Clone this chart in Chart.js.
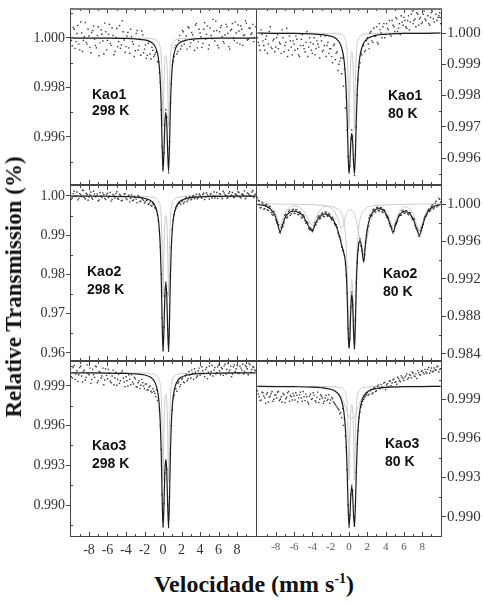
<!DOCTYPE html>
<html>
<head>
<meta charset="utf-8">
<script src="https://cdn.jsdelivr.net/npm/chart.js@4.4.0/dist/chart.umd.min.js"></script>
<style>
html, body { margin: 0; padding: 0; background: #fff; }
body { width: 483px; height: 603px; position: relative; overflow: hidden; }
canvas { position: absolute; }
.lbl { position: absolute; font: bold 14px "Liberation Sans", Arial, sans-serif; line-height: 18px; color: #111; white-space: nowrap; }
#ytitle { position: absolute; left: 14px; top: 287px; transform: translate(-50%, -50%) rotate(-90deg);
  font: bold 23px "Liberation Serif", "Times New Roman", serif; white-space: nowrap; color: #111; }
#xtitle { position: absolute; left: 254px; top: 571px; transform: translateX(-50%);
  font: bold 24px "Liberation Serif", "Times New Roman", serif; white-space: nowrap; color: #111; }
#xtitle sup { font-size: 14px; vertical-align: 9px; line-height: 0; }
</style>
</head>
<body>
<canvas id="c1"></canvas>
<canvas id="c2"></canvas>
<canvas id="c3"></canvas>
<canvas id="c4"></canvas>
<canvas id="c5"></canvas>
<canvas id="c6"></canvas>

<div class="lbl" style="left:92px;top:86px;line-height:16px">Kao1<br>298 K</div>
<div class="lbl" style="left:388px;top:86px">Kao1<br>80 K</div>
<div class="lbl" style="left:87px;top:262px">Kao2<br>298 K</div>
<div class="lbl" style="left:383px;top:264px">Kao2<br>80 K</div>
<div class="lbl" style="left:92px;top:436px">Kao3<br>298 K</div>
<div class="lbl" style="left:385px;top:434px">Kao3<br>80 K</div>
<div id="ytitle">Relative Transmission (%)</div>
<div id="xtitle">Velocidade (mm s<sup>-1</sup>)</div>

<script>
// eixo de velocidade (canais medidos, duas varreduras intercaladas)
const vel = [-10,-9.8,-9.6,-9.4,-9.2,-9,-8.8,-8.6,-8.4,-8.2,-8,-7.8,-7.6,-7.4,-7.2,-7,-6.8,-6.6,-6.4,-6.2,
  -6,-5.8,-5.6,-5.4,-5.2,-5,-4.8,-4.6,-4.4,-4.2,-4,-3.8,-3.6,-3.4,-3.2,-3,-2.8,-2.6,-2.4,-2.2,
  -2,-1.8,-1.6,-1.4,-1.2,-1,-0.8,-0.6,-0.4,-0.2,0,0.2,0.4,0.6,0.8,1,1.2,1.4,1.6,1.8,
  2,2.2,2.4,2.6,2.8,3,3.2,3.4,3.6,3.8,4,4.2,4.4,4.6,4.8,5,5.2,5.4,5.6,5.8,
  6,6.2,6.4,6.6,6.8,7,7.2,7.4,7.6,7.8,8,8.2,8.4,8.6,8.8,9,9.2,9.4,9.6,9.8,10];
const vel2 = [-9.9,-9.7,-9.5,-9.3,-9.1,-8.9,-8.7,-8.5,-8.3,-8.1,-7.9,-7.7,-7.5,-7.3,-7.1,-6.9,-6.7,-6.5,-6.3,-6.1,
  -5.9,-5.7,-5.5,-5.3,-5.1,-4.9,-4.7,-4.5,-4.3,-4.1,-3.9,-3.7,-3.5,-3.3,-3.1,-2.9,-2.7,-2.5,-2.3,-2.1,
  -1.9,-1.7,-1.5,-1.3,-1.1,-0.9,-0.7,-0.5,-0.3,-0.1,0.1,0.3,0.5,0.7,0.9,1.1,1.3,1.5,1.7,1.9,
  2.1,2.3,2.5,2.7,2.9,3.1,3.3,3.5,3.7,3.9,4.1,4.3,4.5,4.7,4.9,5.1,5.3,5.5,5.7,5.9,
  6.1,6.3,6.5,6.7,6.9,7.1,7.3,7.5,7.7,7.9,8.1,8.3,8.5,8.7,8.9,9.1,9.3,9.5,9.7,9.9];

// velocidades das curvas de ajuste (dubletos)
const fitV = [-10,-8,-6,-4,-3,-2,-1.5,-1.2,-1,-0.8,-0.6,-0.5,-0.4,-0.3,-0.2,-0.1,0,0.1,0.2,0.3,
  0.4,0.5,0.6,0.7,0.8,0.9,1,1.1,1.2,1.4,1.6,1.8,2,2.5,3,4,6,8,10];
// velocidades do ajuste Kao2 80 K (sexteto + dubleto)
const p4V = [-10,-9,-8.5,-8,-7.8,-7.5,-7.2,-7,-6.5,-6,-5.5,-5,-4.6,-4.3,-4.05,-3.8,-3.5,-3,-2.5,-2,
  -1.6,-1.3,-1,-0.8,-0.6,-0.4,-0.3,-0.2,-0.1,0,0.1,0.2,0.3,0.4,0.5,0.6,0.7,0.8,0.9,1,
  1.2,1.4,1.6,1.8,2,2.3,2.7,3.2,3.8,4.2,4.5,4.8,5.1,5.4,6,6.6,7.1,7.4,7.7,8,8.4,9,10];

const xTicks = ['-8','-6','-4','-2','0','2','4','6','8'];
const yTicks1 = ['0.996','0.998','1.000'];
const yTicks2 = ['0.996','0.997','0.998','0.999','1.000'];
const yTicks3 = ['0.96','0.97','0.98','0.99','1.00'];
const yTicks4 = ['0.984','0.988','0.992','0.996','1.000'];
const yTicks5 = ['0.990','0.993','0.996','0.999'];
const yTicks6 = ['0.990','0.993','0.996','0.999'];

// Kao1 298 K
const pts1 = [1.00012,0.99968,1.00035,0.99985,1.00050,0.99952,1.00020,0.99990,1.00062,0.99975,
  1.00008,0.99940,1.00030,0.99995,0.99960,1.00045,0.99980,1.00015,0.99935,1.00025,
  0.99990,1.00055,0.99970,1.00010,0.99945,1.00038,0.99985,0.99958,1.00070,0.99992,
  0.99965,1.00022,0.99938,1.00005,0.99975,0.99948,1.00030,0.99968,0.99930,1.00012,
  0.99955,0.99918,0.99978,0.99935,0.99962,0.99925,0.99940,0.99905,0.99860,0.99710,
  0.99470,0.99650,0.99680,0.99455,0.99735,0.99890,0.99925,0.99970,0.99945,1.00010,
  0.99968,1.00025,0.99990,0.99955,1.00040,0.99980,1.00012,0.99950,1.00058,0.99985,
  1.00020,0.99962,1.00035,0.99995,1.00048,0.99972,1.00010,1.00075,0.99988,1.00030,
  0.99960,1.00042,1.00005,0.99978,1.00055,1.00018,0.99955,1.00035,1.00000,1.00065,
  0.99980,1.00028,1.00048,0.99970,1.00012,1.00060,0.99995,1.00038,1.00020,0.99985,
  1.00045];
const pts1b = [0.99990,1.00042,0.99958,1.00018,0.99975,1.00065,0.99945,1.00005,0.99982,1.00035,
  0.99962,1.00022,1.00048,0.99970,1.00010,0.99928,1.00032,0.99988,1.00060,0.99952,
  1.00015,0.99978,1.00040,0.99932,1.00002,0.99965,1.00050,0.99972,1.00025,0.99942,
  1.00008,0.99960,1.00035,0.99985,0.99925,1.00018,0.99950,0.99995,1.00028,0.99940,
  0.99972,0.99930,0.99985,0.99915,0.99950,0.99932,0.99945,0.99902,0.99820,0.99560,
  0.99535,0.99710,0.99555,0.99580,0.99815,0.99905,0.99960,0.99935,0.99990,0.99955,
  1.00030,0.99975,1.00008,1.00045,0.99965,1.00022,0.99990,1.00052,0.99960,1.00035,
  1.00005,0.99978,1.00062,1.00015,0.99955,1.00040,0.99998,1.00028,1.00068,0.99970,
  1.00025,1.00050,0.99985,1.00012,1.00045,0.99965,1.00030,1.00058,0.99990,1.00020,
  1.00052,0.99975,1.00035,1.00010,1.00070,0.99992,1.00040,1.00015,1.00055,1.00000];
const fit1 = [1.00000,0.99999,0.99999,0.99998,0.99996,0.99992,0.99987,0.99981,0.99974,0.99961,
  0.99938,0.99917,0.99883,0.99826,0.99726,0.99571,0.99461,0.99540,0.99657,0.99699,
  0.99657,0.99540,0.99461,0.99571,0.99726,0.99826,0.99883,0.99917,0.99938,0.99961,
  0.99974,0.99981,0.99985,0.99991,0.99994,0.99997,0.99999,0.99999,1.00000];
const gray1 = [1.00000,1.00000,1.00000,1.00000,0.99999,0.99999,0.99998,0.99997,0.99995,0.99993,
  0.99988,0.99984,0.99976,0.99961,0.99925,0.99818,0.99641,0.99812,0.99909,0.99930,
  0.99909,0.99812,0.99641,0.99818,0.99925,0.99961,0.99976,0.99984,0.99988,0.99993,
  0.99995,0.99997,0.99997,0.99999,0.99999,1.00000,1.00000,1.00000,1.00000];

// Kao1 80 K
const pts2 = [0.99985,0.99960,1.00010,0.99975,0.99945,0.99990,0.99965,1.00020,0.99950,0.99980,
  0.99955,0.99995,0.99970,0.99935,0.99985,0.99960,1.00015,0.99945,0.99975,0.99930,
  0.99965,0.99990,0.99950,0.99925,0.99980,0.99960,0.99940,1.00005,0.99955,0.99970,
  0.99935,0.99985,0.99950,0.99965,0.99920,0.99975,0.99945,0.99990,0.99960,0.99935,
  0.99950,0.99905,0.99965,0.99935,0.99880,0.99910,0.99870,0.99830,0.99760,0.99690,
  0.99560,0.99660,0.99670,0.99545,0.99700,0.99850,0.99905,0.99930,0.99960,0.99945,
  0.99985,0.99950,1.00005,0.99970,0.99990,1.00020,0.99965,1.00010,0.99985,1.00030,
  0.99995,1.00015,1.00040,0.99990,1.00025,1.00005,1.00045,1.00015,0.99995,1.00035,
  1.00050,1.00020,1.00040,1.00010,1.00060,1.00030,1.00045,1.00065,1.00025,1.00050,
  1.00035,1.00070,1.00040,1.00055,1.00025,1.00065,1.00045,1.00075,1.00040,1.00055,
  1.00030];
const pts2b = [0.99970,0.99945,0.99995,0.99960,0.99980,0.99935,1.00005,0.99955,0.99975,0.99940,
  0.99985,0.99950,0.99965,1.00010,0.99940,0.99970,0.99925,0.99990,0.99955,0.99975,
  0.99945,0.99980,0.99930,0.99960,0.99995,0.99950,0.99970,0.99925,0.99985,0.99945,
  0.99965,0.99930,0.99975,0.99955,0.99990,0.99940,0.99960,0.99925,0.99970,0.99950,
  0.99925,0.99960,0.99915,0.99940,0.99900,0.99920,0.99920,0.99885,0.99795,0.99605,
  0.99575,0.99690,0.99595,0.99610,0.99800,0.99890,0.99935,0.99960,0.99940,0.99975,
  0.99965,1.00000,0.99975,1.00015,0.99990,0.99970,1.00030,1.00000,1.00020,0.99985,
  1.00030,1.00010,0.99995,1.00040,1.00020,1.00050,1.00005,1.00030,1.00055,1.00025,
  1.00040,1.00015,1.00055,1.00035,1.00070,1.00040,1.00020,1.00060,1.00045,1.00030,
  1.00060,1.00045,1.00080,1.00030,1.00050,1.00070,1.00035,1.00060,1.00050,1.00065];
const fit2 = [1.00000,0.99999,0.99999,0.99997,0.99995,0.99990,0.99984,0.99976,0.99968,0.99953,
  0.99926,0.99902,0.99867,0.99811,0.99726,0.99618,0.99550,0.99584,0.99651,0.99679,
  0.99651,0.99584,0.99550,0.99618,0.99726,0.99811,0.99867,0.99902,0.99926,0.99953,
  0.99968,0.99976,0.99982,0.99989,0.99993,0.99996,0.99999,0.99999,1.00000];
const gray2 = [1.00000,1.00000,1.00000,1.00000,0.99999,0.99999,0.99998,0.99997,0.99996,0.99994,
  0.99990,0.99986,0.99979,0.99966,0.99936,0.99844,0.99692,0.99838,0.99922,0.99940,
  0.99922,0.99838,0.99692,0.99844,0.99936,0.99966,0.99979,0.99986,0.99990,0.99994,
  0.99996,0.99997,0.99998,0.99999,0.99999,1.00000,1.00000,1.00000,1.00000];

// Kao2 298 K
const pts3 = [1.00080,0.99950,1.00120,1.00010,0.99900,1.00060,0.99980,1.00140,0.99930,1.00040,
  0.99970,1.00100,0.99920,1.00050,1.00000,0.99880,1.00090,0.99960,1.00030,0.99910,
  1.00070,0.99990,0.99870,1.00040,0.99950,1.00110,0.99920,1.00020,0.99890,1.00060,
  0.99940,0.99990,0.99850,1.00030,0.99900,0.99960,0.99830,0.99980,0.99870,0.99920,
  0.99820,0.99890,0.99790,0.99850,0.99740,0.99780,0.99680,0.99520,0.99120,0.98010,
  0.96080,0.97450,0.97520,0.96050,0.97960,0.99150,0.99530,0.99690,0.99780,0.99830,
  0.99870,0.99810,0.99920,0.99860,0.99950,0.99900,0.99990,0.99930,1.00040,0.99960,
  1.00020,0.99940,1.00070,0.99980,1.00030,0.99920,1.00060,1.00010,0.99950,1.00090,
  0.99990,1.00040,0.99930,1.00080,1.00010,0.99960,1.00110,1.00020,0.99970,1.00050,
  1.00000,1.00090,0.99950,1.00040,1.00130,0.99980,1.00060,1.00010,1.00100,0.99960,
  1.00050];
const pts3b = [0.99920,1.00060,0.99990,1.00100,0.99940,1.00030,1.00150,0.99960,1.00070,0.99890,
  1.00040,0.99950,1.00120,0.99980,1.00050,0.99900,1.00010,1.00080,0.99940,1.00030,
  0.99960,1.00090,0.99910,1.00000,1.00060,0.99930,1.00040,0.99880,0.99990,1.00050,
  0.99910,1.00020,0.99940,0.99880,0.99990,0.99920,1.00010,0.99860,0.99940,0.99890,
  0.99850,0.99900,0.99810,0.99760,0.99800,0.99700,0.99620,0.99360,0.98700,0.96900,
  0.96650,0.97800,0.96600,0.96880,0.98680,0.99380,0.99620,0.99740,0.99820,0.99790,
  0.99880,0.99850,0.99960,0.99900,0.99990,0.99920,1.00010,0.99970,0.99930,1.00050,
  0.99980,1.00040,0.99910,1.00080,0.99990,1.00030,0.99950,1.00100,1.00000,0.99940,
  1.00060,0.99980,1.00120,1.00030,0.99940,1.00070,1.00000,1.00090,0.99960,1.00040,
  1.00110,0.99970,1.00050,1.00020,0.99930,1.00080,1.00030,0.99990,1.00140,1.00020];
const fit3 = [0.99997,0.99996,0.99993,0.99984,0.99973,0.99943,0.99905,0.99859,0.99806,0.99716,
  0.99543,0.99388,0.99141,0.98722,0.97988,0.96848,0.96040,0.96623,0.97480,0.97786,
  0.97480,0.96623,0.96040,0.96848,0.97988,0.98722,0.99141,0.99388,0.99543,0.99716,
  0.99806,0.99859,0.99892,0.99937,0.99959,0.99978,0.99991,0.99995,0.99997];
const gray3 = [1.00000,1.00000,0.99999,0.99997,0.99995,0.99990,0.99983,0.99975,0.99966,0.99949,
  0.99915,0.99883,0.99828,0.99720,0.99463,0.98700,0.97433,0.98654,0.99353,0.99500,
  0.99353,0.98654,0.97433,0.98700,0.99463,0.99720,0.99828,0.99883,0.99915,0.99949,
  0.99966,0.99975,0.99981,0.99989,0.99993,0.99997,0.99999,1.00000,1.00000];

// Kao2 80 K
const pts4 = [1.00070,1.00030,0.99960,1.00010,0.99950,0.99995,0.99930,0.99975,0.99890,0.99920,
  0.99830,0.99810,0.99700,0.99750,0.99760,0.99880,0.99850,0.99920,0.99880,0.99935,
  0.99900,0.99940,0.99890,0.99915,0.99860,0.99885,0.99820,0.99810,0.99740,0.99745,
  0.99705,0.99770,0.99780,0.99860,0.99840,0.99895,0.99870,0.99910,0.99875,0.99900,
  0.99850,0.99860,0.99790,0.99780,0.99690,0.99650,0.99540,0.99500,0.99360,0.99050,
  0.98480,0.98900,0.98920,0.98460,0.99160,0.99510,0.99630,0.99500,0.99400,0.99590,
  0.99720,0.99850,0.99870,0.99935,0.99925,0.99960,0.99930,0.99960,0.99920,0.99940,
  0.99885,0.99870,0.99790,0.99760,0.99690,0.99770,0.99790,0.99870,0.99880,0.99925,
  0.99905,0.99930,0.99895,0.99910,0.99860,0.99845,0.99770,0.99740,0.99660,0.99715,
  0.99750,0.99840,0.99870,0.99925,0.99920,0.99975,0.99950,1.00010,0.99970,1.00060,
  1.00020];
const pts4b = [1.00040,0.99960,1.00020,0.99945,0.99990,0.99940,0.99970,0.99910,0.99880,0.99890,
  0.99800,0.99780,0.99690,0.99780,0.99800,0.99890,0.99860,0.99935,0.99895,0.99945,
  0.99900,0.99940,0.99885,0.99910,0.99850,0.99870,0.99795,0.99800,0.99725,0.99730,
  0.99720,0.99800,0.99810,0.99875,0.99850,0.99905,0.99865,0.99915,0.99870,0.99885,
  0.99830,0.99840,0.99770,0.99755,0.99660,0.99615,0.99510,0.99455,0.99240,0.98670,
  0.98560,0.99060,0.98610,0.98760,0.99370,0.99590,0.99550,0.99470,0.99460,0.99670,
  0.99760,0.99880,0.99880,0.99945,0.99915,0.99965,0.99925,0.99960,0.99910,0.99930,
  0.99860,0.99850,0.99765,0.99740,0.99710,0.99800,0.99815,0.99890,0.99880,0.99935,
  0.99900,0.99930,0.99885,0.99905,0.99835,0.99840,0.99745,0.99720,0.99655,0.99745,
  0.99780,0.99865,0.99885,0.99945,0.99935,0.99990,0.99960,1.00030,0.99985,1.00050];
const fit4 = [0.99995,0.99975,0.99940,0.99860,0.99790,0.99705,0.99790,0.99850,0.99910,0.99925,
  0.99910,0.99870,0.99800,0.99745,0.99715,0.99755,0.99825,0.99880,0.99895,0.99860,
  0.99810,0.99740,0.99640,0.99560,0.99490,0.99390,0.99260,0.99030,0.98650,0.98460,
  0.98580,0.98880,0.99040,0.98940,0.98630,0.98450,0.98740,0.99140,0.99390,0.99525,
  0.99610,0.99525,0.99380,0.99575,0.99735,0.99860,0.99925,0.99950,0.99930,0.99860,
  0.99780,0.99700,0.99780,0.99860,0.99920,0.99900,0.99820,0.99730,0.99670,0.99760,
  0.99880,0.99960,0.99995];
const gray4s = [0.99998,0.99990,0.99970,0.99900,0.99840,0.99760,0.99840,0.99900,0.99960,0.99980,
  0.99970,0.99930,0.99870,0.99810,0.99780,0.99810,0.99880,0.99950,0.99975,0.99960,
  0.99920,0.99860,0.99780,0.99740,0.99780,0.99860,0.99890,0.99910,0.99925,0.99935,
  0.99940,0.99940,0.99935,0.99925,0.99910,0.99890,0.99860,0.99820,0.99770,0.99720,
  0.99620,0.99540,0.99500,0.99550,0.99650,0.99790,0.99900,0.99960,0.99950,0.99890,
  0.99820,0.99760,0.99830,0.99900,0.99970,0.99950,0.99870,0.99780,0.99730,0.99800,
  0.99910,0.99975,0.99998];
const gray4d = [1.00000,1.00000,1.00000,0.99999,0.99999,0.99999,0.99999,0.99999,0.99998,0.99998,
  0.99997,0.99996,0.99995,0.99994,0.99993,0.99992,0.99990,0.99986,0.99982,0.99975,
  0.99966,0.99950,0.99930,0.99898,0.99835,0.99690,0.99540,0.99275,0.98860,0.98570,
  0.98780,0.99090,0.99200,0.99090,0.98780,0.98570,0.98860,0.99275,0.99540,0.99690,
  0.99835,0.99898,0.99930,0.99950,0.99966,0.99975,0.99982,0.99986,0.99990,0.99992,
  0.99993,0.99994,0.99995,0.99996,0.99997,0.99998,0.99998,0.99999,0.99999,0.99999,
  0.99999,1.00000,1.00000];

// Kao3 298 K
const pts5 = [1.00030,0.99960,1.00055,0.99990,0.99935,1.00040,0.99975,1.00010,0.99945,1.00060,
  0.99985,0.99920,1.00025,0.99965,1.00045,0.99940,1.00005,0.99975,0.99910,1.00030,
  0.99955,0.99995,0.99925,1.00020,0.99960,0.99905,0.99990,0.99940,1.00015,0.99930,
  0.99970,0.99900,0.99950,0.99985,0.99915,0.99955,0.99890,0.99940,0.99905,0.99925,
  0.99880,0.99915,0.99870,0.99900,0.99850,0.99860,0.99820,0.99790,0.99720,0.99420,
  0.98840,0.99240,0.99270,0.98830,0.99390,0.99720,0.99830,0.99880,0.99920,0.99895,
  0.99950,0.99930,0.99975,0.99940,1.00010,0.99960,0.99995,1.00030,0.99965,1.00015,
  0.99980,1.00045,0.99995,1.00025,0.99955,1.00050,1.00010,0.99975,1.00040,1.00000,
  1.00060,0.99985,1.00030,1.00050,0.99990,1.00070,1.00020,0.99970,1.00045,1.00010,
  1.00055,0.99995,1.00035,1.00065,1.00010,1.00045,0.99985,1.00060,1.00025,1.00040,
  1.00015];
const pts5b = [0.99970,1.00040,0.99950,1.00015,0.99985,1.00050,0.99930,1.00020,0.99965,0.99995,
  1.00035,0.99950,0.99985,1.00050,0.99925,1.00010,0.99960,1.00035,0.99945,0.99980,
  1.00025,0.99935,0.99975,0.99910,1.00005,0.99950,0.99920,1.00000,0.99960,0.99895,
  0.99940,0.99985,0.99910,0.99930,0.99965,0.99895,0.99925,0.99880,0.99950,0.99900,
  0.99915,0.99870,0.99890,0.99860,0.99880,0.99845,0.99870,0.99810,0.99600,0.99080,
  0.99010,0.99330,0.99000,0.99060,0.99600,0.99810,0.99880,0.99860,0.99930,0.99910,
  0.99960,0.99925,0.99990,0.99955,0.99985,1.00020,0.99950,1.00005,0.99975,1.00035,
  0.99995,1.00015,0.99970,1.00040,1.00005,0.99985,1.00055,1.00020,0.99990,1.00045,
  1.00015,1.00040,0.99980,1.00065,1.00025,1.00005,1.00050,0.99990,1.00060,1.00030,
  1.00000,1.00050,1.00020,0.99990,1.00055,1.00030,1.00070,1.00005,1.00045,1.00020];
const fit5 = [0.99999,0.99999,0.99998,0.99995,0.99992,0.99983,0.99972,0.99958,0.99943,0.99916,
  0.99865,0.99819,0.99746,0.99622,0.99405,0.99068,0.98830,0.99002,0.99255,0.99346,
  0.99255,0.99002,0.98830,0.99068,0.99405,0.99622,0.99746,0.99819,0.99865,0.99916,
  0.99943,0.99958,0.99968,0.99981,0.99988,0.99994,0.99997,0.99999,0.99999];
const gray5 = [1.00000,1.00000,1.00000,0.99999,0.99998,0.99997,0.99995,0.99992,0.99989,0.99984,
  0.99973,0.99963,0.99945,0.99910,0.99828,0.99584,0.99178,0.99569,0.99793,0.99840,
  0.99793,0.99569,0.99178,0.99584,0.99828,0.99910,0.99945,0.99963,0.99973,0.99984,
  0.99989,0.99992,0.99994,0.99997,0.99998,0.99999,1.00000,1.00000,1.00000];

// Kao3 80 K
const pts6 = [0.99965,0.99920,0.99895,0.99950,0.99910,0.99940,0.99880,0.99925,0.99960,0.99900,
  0.99935,0.99955,0.99890,0.99920,0.99945,0.99875,0.99915,0.99960,0.99930,0.99895,
  0.99925,0.99950,0.99880,0.99935,0.99910,0.99960,0.99890,0.99920,0.99865,0.99940,
  0.99905,0.99930,0.99880,0.99955,0.99900,0.99925,0.99870,0.99910,0.99890,0.99935,
  0.99895,0.99905,0.99870,0.99850,0.99830,0.99790,0.99760,0.99700,0.99620,0.99360,
  0.98920,0.99170,0.99200,0.98930,0.99340,0.99660,0.99800,0.99860,0.99900,0.99925,
  0.99950,0.99940,0.99975,0.99950,0.99990,0.99965,1.00010,0.99980,0.99995,1.00025,
  0.99975,1.00020,1.00040,1.00005,1.00050,1.00030,1.00015,1.00060,1.00035,1.00070,
  1.00045,1.00080,1.00055,1.00090,1.00065,1.00100,1.00075,1.00060,1.00105,1.00085,
  1.00120,1.00095,1.00110,1.00130,1.00100,1.00140,1.00115,1.00125,1.00150,1.00110,
  1.00135];
const pts6b = [0.99940,0.99890,0.99955,0.99925,0.99870,0.99950,0.99915,0.99945,0.99885,0.99930,
  0.99910,0.99960,0.99900,0.99880,0.99935,0.99905,0.99950,0.99885,0.99920,0.99945,
  0.99895,0.99930,0.99910,0.99955,0.99885,0.99920,0.99940,0.99880,0.99925,0.99900,
  0.99950,0.99890,0.99915,0.99875,0.99935,0.99910,0.99885,0.99930,0.99900,0.99870,
  0.99915,0.99880,0.99860,0.99840,0.99820,0.99800,0.99830,0.99750,0.99530,0.99090,
  0.99010,0.99240,0.99000,0.99080,0.99560,0.99760,0.99840,0.99885,0.99915,0.99935,
  0.99930,0.99965,0.99940,0.99985,0.99960,1.00000,0.99985,1.00015,0.99990,1.00030,
  1.00010,0.99995,1.00040,1.00025,1.00055,1.00035,1.00070,1.00045,1.00080,1.00060,
  1.00070,1.00095,1.00065,1.00085,1.00110,1.00080,1.00095,1.00120,1.00090,1.00115,
  1.00105,1.00130,1.00100,1.00145,1.00120,1.00110,1.00140,1.00125,1.00155,1.00130];
const fit6 = [0.99999,0.99998,0.99997,0.99994,0.99989,0.99977,0.99962,0.99943,0.99923,0.99887,
  0.99822,0.99766,0.99681,0.99548,0.99344,0.99085,0.98923,0.99004,0.99164,0.99231,
  0.99164,0.99004,0.98923,0.99085,0.99344,0.99548,0.99681,0.99766,0.99822,0.99887,
  0.99923,0.99943,0.99957,0.99975,0.99983,0.99991,0.99997,0.99998,0.99999];
const gray6a = [1.00000,1.00000,1.00000,0.99999,0.99999,0.99997,0.99995,0.99993,0.99990,0.99986,
  0.99976,0.99967,0.99952,0.99922,0.99850,0.99636,0.99281,0.99623,0.99819,0.99860,
  0.99819,0.99623,0.99281,0.99636,0.99850,0.99922,0.99952,0.99967,0.99976,0.99986,
  0.99990,0.99993,0.99995,0.99998,0.99999,1.00000,1.00000,1.00000,1.00000];
const gray6b = [1.00000,0.99999,0.99998,0.99995,0.99991,0.99980,0.99966,0.99950,0.99934,0.99912,
  0.99882,0.99864,0.99843,0.99822,0.99800,0.99781,0.99766,0.99757,0.99753,0.99752,
  0.99753,0.99757,0.99766,0.99781,0.99800,0.99822,0.99843,0.99864,0.99882,0.99912,
  0.99934,0.99950,0.99962,0.99978,0.99986,0.99993,0.99998,0.99999,1.00000];

const serif = '"Liberation Serif", "Times New Roman", serif';

// moldura do painel + marcas internas
const frame = {
    id: 'frame',
    afterDatasetsDraw(chart, args, opts) {
        const { ctx, chartArea: a, scales } = chart;
        const x = scales.x, y = scales.y;
        ctx.save();
        ctx.strokeStyle = '#444';
        ctx.lineWidth = 1;
        ctx.beginPath();
        for (let u = -9; u <= 9; u++) {
            const px = Math.round(x.getPixelForValue(u)) + 0.5;
            const len = u % 2 === 0 ? 5 : 3;
            ctx.moveTo(px, a.bottom); ctx.lineTo(px, a.bottom - len);
            ctx.moveTo(px, a.top); ctx.lineTo(px, a.top + len);
        }
        const t = opts.ticks.map(parseFloat);
        const step = (t[t.length - 1] - t[0]) / (t.length - 1);
        for (let v = t[0] - step / 2; v <= y.max; v += step) {
            if (v < y.min) continue;
            const py = Math.round(y.getPixelForValue(v)) + 0.5;
            if (opts.left) { ctx.moveTo(a.left, py); ctx.lineTo(a.left + 3, py); }
            else { ctx.moveTo(a.right, py); ctx.lineTo(a.right - 3, py); }
        }
        ctx.stroke();
        ctx.strokeRect(Math.round(a.left) + 0.5, Math.round(a.top) + 0.5,
            Math.round(a.right - a.left) - 1, Math.round(a.bottom - a.top) - 1);
        if (opts.thick) {
            ctx.strokeStyle = '#7a7a7a';
            ctx.lineWidth = 2;
            ctx.beginPath();
            ctx.moveTo(a.left, a.top + 1); ctx.lineTo(a.right, a.top + 1);
            ctx.stroke();
        }
        ctx.restore();
    }
};

const panels = [
    { id: 'c1', x: 0,   y: -6,  w: 257, h: 205, left: true,  last: false, yMin: 0.99406, yMax: 1.00121, yTicks: yTicks1, fx: fitV, fit: fit1, gx: fitV, grays: [gray1], pts: pts1, ptsb: pts1b },
    { id: 'c2', x: 256, y: -6,  w: 227, h: 205, left: false, last: false, yMin: 0.99514, yMax: 1.00080, yTicks: yTicks2, fx: fitV, fit: fit2, gx: fitV, grays: [gray2], pts: pts2, ptsb: pts2b },
    { id: 'c3', x: 0,   y: 171, w: 257, h: 204, left: true,  last: false, yMin: 0.95796, yMax: 1.00280, yTicks: yTicks3, fx: fitV, fit: fit3, gx: fitV, grays: [gray3], pts: pts3, ptsb: pts3b },
    { id: 'c4', x: 256, y: 171, w: 227, h: 204, left: false, last: false, yMin: 0.98325, yMax: 1.00203, yTicks: yTicks4, fx: p4V,  fit: fit4, gx: p4V,  grays: [gray4s, gray4d], pts: pts4, ptsb: pts4b },
    { id: 'c5', x: 0,   y: 347, w: 257, h: 220, left: true,  last: true,  yMin: 0.98758, yMax: 1.00089, yTicks: yTicks5, fx: fitV, fit: fit5, gx: fitV, grays: [gray5], pts: pts5, ptsb: pts5b },
    { id: 'c6', x: 256, y: 347, w: 227, h: 220, left: false, last: true,  yMin: 0.98844, yMax: 1.00194, yTicks: yTicks6, fx: fitV, fit: fit6, gx: fitV, grays: [gray6a, gray6b], pts: pts6, ptsb: pts6b }
];

function pares(xs, ys) {
    return xs.map((v, i) => ({ x: v, y: ys[i] }));
}

panels.forEach((p, k) => {
    const cv = document.getElementById(p.id);
    cv.width = p.w;
    cv.height = p.h;
    cv.style.left = p.x + 'px';
    cv.style.top = p.y + 'px';

    const datasets = [
        { data: pares(p.fx, p.fit), showLine: true, borderColor: '#1c1c1c', borderWidth: 1.2,
          pointRadius: 0, cubicInterpolationMode: 'monotone' },
        { data: pares(vel, p.pts).concat(pares(vel2, p.ptsb)), pointStyle: 'rect', pointRadius: 1,
          backgroundColor: '#3a3a3a', borderWidth: 0 }
    ];
    p.grays.forEach(g => datasets.push({
        data: pares(p.gx, g), showLine: true, borderColor: '#cacaca', borderWidth: 1,
        pointRadius: 0, cubicInterpolationMode: 'monotone'
    }));

    new Chart(cv, {
        type: 'scatter',
        data: { datasets },
        options: {
            responsive: false,
            animation: false,
            devicePixelRatio: 1,
            events: [],
            layout: { autoPadding: false, padding: { top: 14, bottom: p.last ? 0 : 14, left: 0, right: 0 } },
            plugins: {
                legend: { display: false },
                tooltip: { enabled: false },
                frame: { ticks: p.yTicks, left: p.left, thick: k < 2 }
            },
            scales: {
                x: {
                    type: 'linear',
                    min: p.left ? -10.05 : -10.15,
                    max: 10.15,
                    display: p.last,
                    afterBuildTicks: s => { s.ticks = xTicks.map(t => ({ value: parseFloat(t) })); },
                    afterFit: s => { if (p.last) s.height = 30; },
                    grid: { display: false, drawTicks: false },
                    border: { display: false },
                    ticks: {
                        autoSkip: false, maxRotation: 0,
                        padding: p.left ? 5 : 4,
                        color: p.left ? '#333' : '#555',
                        font: { family: serif, size: p.left ? 14 : 11 },
                        callback: (v, i) => xTicks[i]
                    }
                },
                y: {
                    type: 'linear',
                    position: p.left ? 'left' : 'right',
                    min: p.yMin,
                    max: p.yMax,
                    afterBuildTicks: s => { s.ticks = p.yTicks.map(t => ({ value: parseFloat(t) })); },
                    afterFit: s => { s.width = p.left ? 70 : 41; },
                    grid: { drawOnChartArea: false, drawTicks: true, tickLength: 4, color: '#444' },
                    border: { display: false },
                    ticks: {
                        autoSkip: false,
                        padding: 1,
                        color: '#333',
                        font: { family: serif, size: p.left ? 14 : 15 },
                        callback: (v, i) => p.yTicks[i]
                    }
                }
            }
        },
        plugins: [frame]
    });
});
</script>
</body>
</html>
